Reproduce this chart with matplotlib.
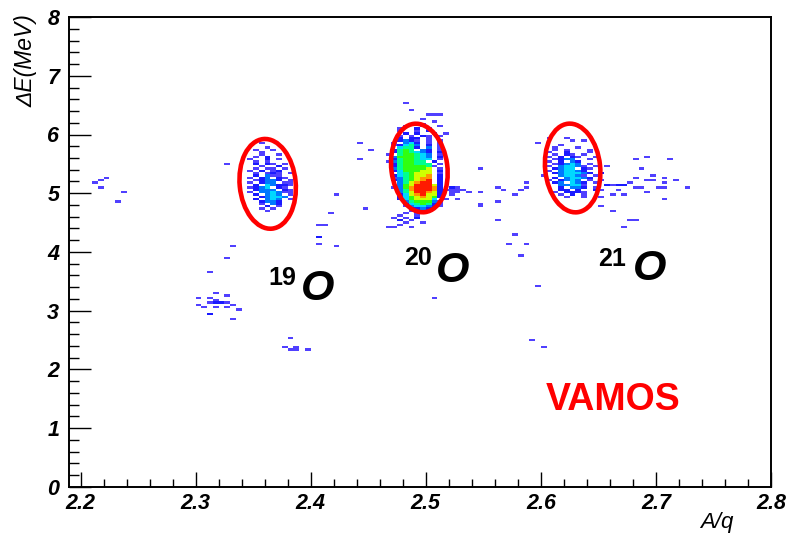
import numpy as np
import matplotlib
matplotlib.use("Agg")
import matplotlib.pyplot as plt
from matplotlib.colors import ListedColormap, BoundaryNorm
from matplotlib.patches import Ellipse
from matplotlib.transforms import ScaledTranslation
from matplotlib.ticker import MultipleLocator, FormatStrFormatter

# histogram binning (A/q, dE)
X_MIN, X_MAX, DX = 2.19, 2.80, 0.005
Y_MIN, Y_MAX, DY = 0.0, 8.0, 0.04

# dense blobs, counts per bin ('.' = empty), top row first
O19_X0, O19_YTOP = 2.345, 5.88
O19_ROWS = [
    "..1.....", "........", "...1....", ".1..1...", "..1.....",
    "..1..1..", ".1.2....", "1..2.1..", ".1.1....", ".2.21.1.",
    "..1..2..", ".1.11.1.", "1.2.12..", ".1.121.1", ".2.311..",
    "1.23.21.", ".12332.1", "1.233.11", ".2.43221", "1234.21.",
    ".2333.21", "1.334311", ".2.343.1", "..23443.", ".2.343.1",
    "..2332..", "..1.32..", "...2.1..", "..1.1...", "...1....",
]

O20_X0, O20_YTOP = 2.465, 6.60
O20_ROWS = [
    ".............", "...1.........", ".............", ".............",
    "....1........", ".............", ".......111...", ".............",
    "......1......", "........1....", "....1.1......", "...1..1..1...",
    "..1..2.1.....", "..1..1.2.....", "...2.2..1.1..", "..1.1.21.1...",
    "..2.22.1.....", "..2321.1.1...", ".1.342.1.1...", ".12453.2.1...",
    "..4552.3.1...", ".2565.32.1...", ".2565432.2...", "1.566543.1...",
    ".3666543.2...", ".2566544.1...", "1356655.2....", ".2566555.1...",
    ".25666651....", ".3566667.1...", ".2466677.2...", "..456777.1...",
    ".2456778.2...", ".1356788.2...", ".2356789.2...", "..357899.2...",
    "..36799972...", ".136899982.1.", "..35899982111", "..35799872.11",
    "..24789772.1.", "..24678762...", "..2467774.1..", "...3566631...",
    "...2456521...", "...1344321...", "....2232.....", "....1.1......",
    "...1.1.......", "..1..1.......", ".1.1.2.......", "..2.1........",
    "...1..1......", "..1..........", ".1..1........",
]

O21_X0, O21_YTOP = 2.600, 5.96
O21_ROWS = [
    ".1..1.......", ".....1.1....", "............", "...1........",
    "..1...1.....", "..1.1...1...", ".1..2...1...", "..1.21.1....",
    ".1.2.21..1..", "..1233..1...", ".1.2.32.....", "..12343.1...",
    ".1.34431.1.1", "..2344.21...", ".1.34432....", "..2344432.1.",
    "1..34431.1..", "..2.34432...", ".1.2343.1.1.", "..23.432.1..",
    "...33441...1", "...2.332.1..", "...22.2..11.", "..1.2221....",
    "...1.2.1....", "....1..1....",
]

# isolated entries
iso_x = [2.210, 2.216, 2.220, 2.216, 2.235, 2.232,
         2.329, 2.334, 2.326, 2.310,
         2.318, 2.329, 2.303, 2.311, 2.315, 2.315, 2.320, 2.320, 2.310, 2.325,
         2.305, 2.318, 2.329, 2.312, 2.312, 2.332, 2.336, 2.332, 2.300, 2.315,
         2.442, 2.454, 2.442, 2.424, 2.418, 2.405, 2.410, 2.408, 2.408, 2.406,
         2.420, 2.448, 2.468,
         2.380, 2.377, 2.381, 2.385, 2.387, 2.399, 2.505,
         2.522, 2.526, 2.530, 2.539, 2.548, 2.545, 2.548, 2.528, 2.561, 2.569,
         2.576, 2.580, 2.587, 2.589, 2.561, 2.561, 2.576, 2.572, 2.585, 2.582,
         2.597, 2.591, 2.602, 2.597, 2.549,
         2.654, 2.659, 2.663, 2.667, 2.667, 2.672, 2.672, 2.676, 2.680, 2.685,
         2.680, 2.713, 2.688, 2.697, 2.706, 2.706, 2.719, 2.726, 2.693, 2.698,
         2.702, 2.708, 2.706, 2.693, 2.667, 2.674, 2.652, 2.660, 2.654, 2.676,
         2.682, 2.674, 2.693, 2.680, 2.647, 2.662]
iso_y = [5.19, 5.23, 5.25, 5.08, 5.01, 4.84,
         5.48, 4.11, 3.89, 3.67,
         3.30, 3.25, 3.23, 3.23, 3.13, 3.13, 3.13, 3.13, 3.13, 3.13,
         3.06, 3.06, 3.06, 2.93, 2.93, 2.84, 3.03, 3.10, 3.10, 3.18,
         5.87, 5.75, 5.60, 4.96, 4.65, 4.47, 4.47, 4.26, 4.26, 4.14,
         4.11, 4.75, 4.43,
         2.54, 2.36, 2.32, 2.36, 2.32, 2.34, 3.22,
         5.08, 5.08, 5.04, 5.01, 5.02, 5.41, 4.79, 4.91, 5.08, 5.04,
         4.99, 5.04, 5.08, 5.19, 4.87, 4.55, 4.30, 4.13, 4.13, 3.94,
         3.43, 2.50, 2.37, 5.84, 4.81,
         5.33, 5.15, 5.13, 5.15, 5.15, 5.13, 5.13, 5.17, 5.10, 5.10,
         5.60, 5.60, 5.41, 5.30, 5.25, 5.18, 5.23, 5.11, 5.21, 5.21,
         5.08, 5.08, 4.89, 5.01, 5.04, 4.96, 4.77, 4.70, 4.92, 4.55,
         4.53, 4.42, 5.62, 5.25, 5.04, 4.99]

# ROOT-like rainbow palette, one colour per count level
palette = ["#5040ff", "#1a1aff", "#0078ff", "#00d8ff", "#00ff90",
           "#30ff10", "#d0ff00", "#ff9800", "#ff1a00"]

# ellipse marks: centre (A/q, dE), minor/major size in px, tilt in deg
ell_cx = [2.3626, 2.4944, 2.6276]
ell_cy = [5.16, 5.43, 5.43]
ell_w = [56, 56, 55]
ell_h = [90, 89, 89]
ell_ang = [5.5, 7.3, 6.0]

# isotope labels: mass number, positions of the number and of the O
iso_names = ["19", "20", "21"]
num_xy = [(2.3631, 3.435), (2.4810, 3.773), (2.6501, 3.756)]
sym_xy = [(2.3917, 3.18), (2.5088, 3.486), (2.6796, 3.52)]


def grid_entries(x0, ytop, rows):
    xs, ys, ws = [], [], []
    for r, row in enumerate(rows):
        for c, ch in enumerate(row):
            if ch.isdigit() and ch != "0":
                xs.append(x0 + DX*(c+0.5))
                ys.append(ytop - DY*(r+0.5))
                ws.append(int(ch))
    return xs, ys, ws


xs, ys, ws = [], [], []
for x0, yt, rows in [(O19_X0, O19_YTOP, O19_ROWS), (O20_X0, O20_YTOP, O20_ROWS),
                     (O21_X0, O21_YTOP, O21_ROWS)]:
    a, b, c = grid_entries(x0, yt, rows)
    xs += a; ys += b; ws += c
xs += iso_x; ys += iso_y; ws += [1]*len(iso_x)

xedges = X_MIN + DX*np.arange(int(round((X_MAX-X_MIN)/DX))+1)
yedges = Y_MIN + DY*np.arange(int(round((Y_MAX-Y_MIN)/DY))+1)

cmap = ListedColormap(palette)
cmap.set_over(palette[-1])
norm = BoundaryNorm(np.arange(0.5, len(palette)+1.0, 1.0), cmap.N)

fig = plt.figure(figsize=(7.88, 5.38), dpi=100)
ax = fig.add_axes([0.0876, 0.0948, 0.8909, 0.8736])
ax.hist2d(xs, ys, bins=[xedges, yedges], weights=ws, cmap=cmap, norm=norm, cmin=0.5)

for cx, cy, w, h, a in zip(ell_cx, ell_cy, ell_w, ell_h, ell_ang):
    tr = fig.dpi_scale_trans + ScaledTranslation(cx, cy, ax.transData)
    ax.add_patch(Ellipse((0, 0), w/100, h/100, angle=a, transform=tr,
                         fill=False, edgecolor="#ff0000", linewidth=3.3, zorder=5))

for name, (nx, ny), (sx, sy) in zip(iso_names, num_xy, sym_xy):
    ax.text(nx, ny, name, fontsize=18, fontweight="bold", family="Liberation Sans",
            ha="left", va="baseline", zorder=6)
    ax.text(sx, sy, "O", fontsize=31, fontweight="bold", style="italic",
            family="Liberation Sans", ha="left", va="baseline", zorder=6)

ax.text(2.6042, 1.303, "VAMOS", color="#ff0000", fontsize=27, fontweight="bold",
        family="Liberation Sans", ha="left", va="baseline")

ax.set_xlim(X_MIN, X_MAX)
ax.set_ylim(Y_MIN, Y_MAX)
ax.xaxis.set_major_locator(MultipleLocator(0.1))
ax.xaxis.set_minor_locator(MultipleLocator(0.02))
ax.xaxis.set_major_formatter(FormatStrFormatter("%.1f"))
ax.yaxis.set_major_locator(MultipleLocator(1))
ax.yaxis.set_minor_locator(MultipleLocator(0.2))
ax.tick_params(which="both", direction="in", top=False, right=False, width=1.0)
ax.tick_params(axis="x", which="major", length=10.8, pad=4.0)
ax.tick_params(axis="x", which="minor", length=5.5)
ax.tick_params(axis="y", which="major", length=15.6, pad=7.0)
ax.tick_params(axis="y", which="minor", length=7.2)
for lab in ax.get_xticklabels() + ax.get_yticklabels():
    lab.set_family("Liberation Sans")
    lab.set_style("italic")
    lab.set_fontweight("bold")
    lab.set_fontsize(15.5)
for sp in ax.spines.values():
    sp.set_linewidth(1.4)

ax.text(0.946, -0.075, "A/q", transform=ax.transAxes, ha="right", va="center",
        fontsize=16, style="italic", family="Liberation Sans")
ax.text(-0.062, 1.006, "\u0394E(MeV)", transform=ax.transAxes, ha="center", va="top",
        rotation=90, fontsize=16.5, style="italic", family="Liberation Sans")

fig.savefig("out.png", dpi=100)
